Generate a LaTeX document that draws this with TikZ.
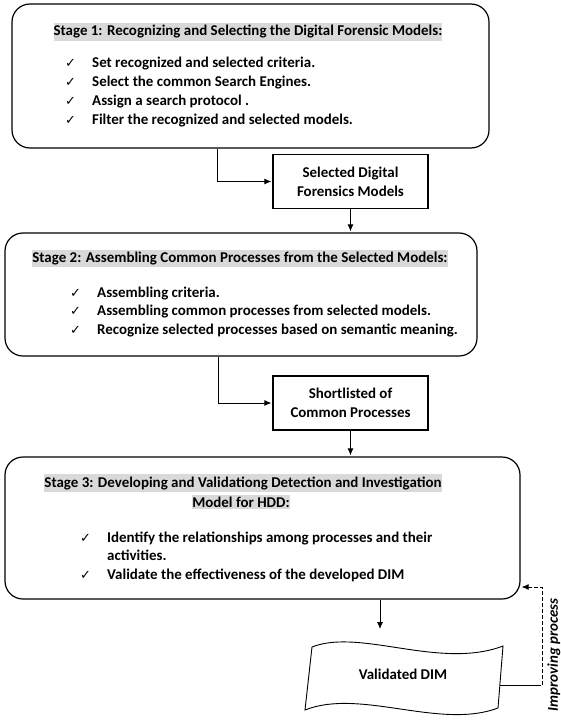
\documentclass[tikz,border=0pt]{standalone}
\usepackage{fontspec}
\setmainfont{Carlito}
\newfontfamily\symfont{DejaVu Sans}
\usetikzlibrary{arrows.meta}
\definecolor{hlgray}{HTML}{D9D9D9}
\newcommand{\chk}{{\symfont\mdseries\fontsize{13}{13}\selectfont ✓}}

\begin{document}
\begin{tikzpicture}[x=1bp,y=-1bp,>={Latex[length=7bp,width=6bp]},shorten >=1pt,
  font=\bfseries\fontsize{15}{19}\selectfont,
  stage node/.style={draw,rounded corners=18bp,line width=1.2bp,inner sep=0pt},
  out node/.style={draw,line width=1.2bp,minimum width=155bp,minimum height=54bp,align=center,inner sep=0pt},
  title node/.style={fill=hlgray,inner xsep=0pt,inner ysep=2bp,anchor=base},
  list node/.style={anchor=base west,inner sep=0pt},
  link/.style={->,line width=0.9bp}]

  \useasboundingbox (0,0) rectangle (561,723);

  % stage 1
  \node[stage node,minimum width=477bp,minimum height=144bp] (st1) at (250.5,76) {};
  \node[title node] (t1) at (248,36) {Stage 1: Recognizing and Selecting the Digital Forensic Models:};
  \node[list node] (l1) at (65,68) {\begin{tabular}[t]{@{}p{27bp}@{}l@{}}
    \chk & Set recognized and selected criteria.\\
    \chk & Select the  common Search Engines.\\
    \chk & Assign a search protocol  .\\
    \chk & Filter the  recognized and  selected models.
  \end{tabular}};

  \node[out node] (sel) at (350.5,181.5) {Selected Digital\\Forensics Models};

  % stage 2
  \node[stage node,minimum width=472bp,minimum height=123bp] (st2) at (241,294.5) {};
  \node[title node] (t2) at (240,262) {Stage 2: Assembling Common Processes  from the  Selected Models:};
  \node[list node] (l2) at (70,297) {\begin{tabular}[t]{@{}p{27bp}@{}l@{}}
    \chk & Assembling criteria.\\
    \chk & Assembling common processes from selected models.\\
    \chk & Recognize selected processes based on semantic meaning.
  \end{tabular}};

  \node[out node] (short) at (350.5,403) {Shortlisted of\\Common Processes};

  % stage 3
  \node[stage node,minimum width=515bp,minimum height=142bp] (st3) at (262.5,528) {};
  \node[title node] (t3a) at (243,487) {Stage 3: Developing and Validationg  Detection and Investigation};
  \node[title node] (t3b) at (241,507) {Model for HDD:};
  \node[list node] (l3) at (80,542) {\begin{tabular}[t]{@{}p{27bp}@{}l@{}}
    \chk & Identify the  relationships  among processes  and their\\
         & activities.\\
    \chk & Validate the effectiveness of the  developed DIM
  \end{tabular}};

  % output
  \draw[line width=0.9bp] (312,647) .. controls (360,628) and (440,670) .. (503,646)
    -- (498,708) .. controls (440,730) and (360,688) .. (305,710) -- cycle;
  \node (dim) at (403,674) {Validated DIM};
  \coordinate (dimin) at (380,630);
  \coordinate (dimout) at (500,685);
  \coordinate (fbtop) at (542,587);
  \node[rotate=90,font=\bfseries\itshape\fontsize{15}{18}\selectfont] (imp) at (554,655) {Improving  process};

  \draw[link] ([xshift=-33.5bp]st1.south) |- (sel.west);
  \draw[link] (sel.south) -- (sel.south |- st2.north);
  \draw[link] ([xshift=-23bp]st2.south) |- (short.west);
  \draw[link] (short.south) -- (short.south |- st3.north);
  \draw[link] (st3.south -| dimin) -- (dimin);
  \draw[line width=0.9bp] (dimout) -- (dimout -| fbtop);
  \draw[link,dash pattern=on 4bp off 2bp] (dimout -| fbtop) -- (fbtop) -- (st3.east |- fbtop);
\end{tikzpicture}
\end{document}
